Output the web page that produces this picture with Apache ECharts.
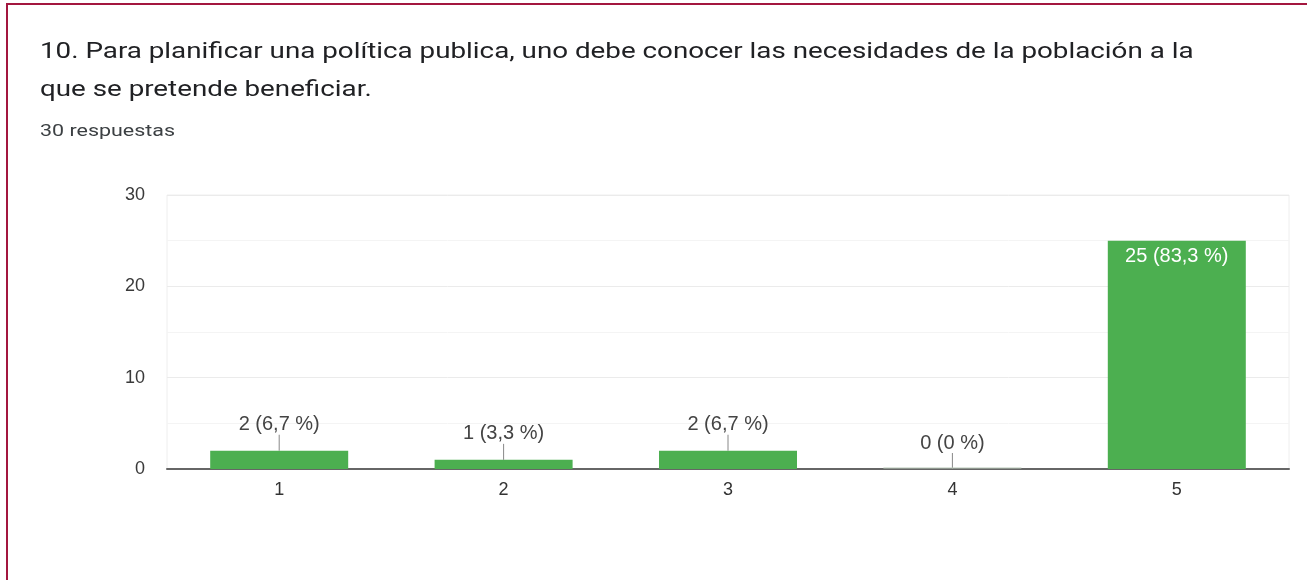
<!DOCTYPE html>
<html>
<head>
<meta charset="utf-8">
<script src="https://cdn.jsdelivr.net/npm/echarts@6/dist/echarts.min.js"></script>
<style>
html,body{margin:0;padding:0;background:#fff;}
#frame{position:absolute;left:6px;top:3px;width:1301px;height:577px;border-left:2px solid #a3173f;border-top:2px solid #a3173f;box-sizing:border-box;}
#chart{position:absolute;left:0;top:0;width:1307px;height:580px;}
</style>
</head>
<body>
<div id="frame"></div>
<div id="chart"></div>
<script>
const titleLines = ["10. Para planificar una política publica, uno debe conocer las necesidades de la población a la", "que se pretende beneficiar."];
const subtitle = "30 respuestas";
const categories = ["1", "2", "3", "4", "5"];
const counts = [2, 1, 2, 0, 25];
const percents = ["6,7", "3,3", "6,7", "0", "83,3"];
const yTicks = [0, 10, 20, 30];

const labels = counts.map((c, i) => c + " (" + percents[i] + " %)");
const maxVal = yTicks[yTicks.length - 1];
const insideThreshold = 20;
const stretch = 1.262;

const chart = echarts.init(document.getElementById('chart'), null, {renderer: 'canvas'});
const option = {
  animation: false,
  graphic: [
    {type: 'text', x: 40, y: 52, scaleX: stretch, silent: true,
     style: {text: titleLines[0], font: '22px Roboto', fill: '#202124', verticalAlign: 'middle'}},
    {type: 'text', x: 40, y: 90, scaleX: stretch, silent: true,
     style: {text: titleLines[1], font: '22px Roboto', fill: '#202124', verticalAlign: 'middle'}},
    {type: 'text', x: 40, y: 132, scaleX: stretch, silent: true,
     style: {text: subtitle, font: '17px Roboto', fill: '#3c4043', verticalAlign: 'middle'}}
  ],
  grid: {left: 167, right: 18, top: 195, bottom: 111, show: true, borderColor: '#eeeeee', borderWidth: 1},
  xAxis: {
    type: 'category', data: categories,
    axisLine: {lineStyle: {color: '#666666', width: 2}},
    axisTick: {show: false},
    axisLabel: {fontFamily: 'Liberation Sans', fontSize: 18, color: '#333333', margin: 12}
  },
  yAxis: {
    type: 'value', min: yTicks[0], max: maxVal, interval: 10,
    axisLine: {show: false}, axisTick: {show: false},
    axisLabel: {fontFamily: 'Liberation Sans', fontSize: 18, color: '#3a3a3a', margin: 22},
    splitLine: {lineStyle: {color: '#ebebeb'}},
    minorTick: {show: false, splitNumber: 2},
    minorSplitLine: {show: true, lineStyle: {color: '#f4f4f4'}}
  },
  series: [
    {
      type: 'bar', data: counts.map((v, i) => ({
        value: v,
        label: v >= insideThreshold
          ? {show: true, position: 'insideTop', distance: 6, color: '#ffffff'}
          : {show: true, position: 'top', distance: 16, color: '#444444'}
      })),
      barWidth: '61.5%',
      itemStyle: {color: '#4caf50'},
      label: {fontFamily: 'Liberation Sans', fontSize: 20, formatter: p => labels[p.dataIndex]},
      z: 2
    },
    {
      type: 'custom',
      data: counts.map((v, i) => [i, v]),
      z: 3,
      silent: true,
      renderItem: function (params, api) {
        const v = api.value(1);
        if (v >= insideThreshold) return null;
        const p = api.coord([api.value(0), v]);
        const children = [{
          type: 'line',
          shape: {x1: p[0], y1: p[1], x2: p[0], y2: p[1] - 16},
          style: {stroke: '#888888', lineWidth: 1}
        }];
        if (v === 0) {
          const w = api.size([1, 0])[0] * 0.615;
          children.push({
            type: 'line',
            shape: {x1: p[0] - w / 2, y1: p[1] - 1, x2: p[0] + w / 2, y2: p[1] - 1},
            style: {stroke: '#b9c9b9', lineWidth: 1}
          });
        }
        return {type: 'group', children: children};
      }
    }
  ]
};
chart.setOption(option);
</script>
</body>
</html>
